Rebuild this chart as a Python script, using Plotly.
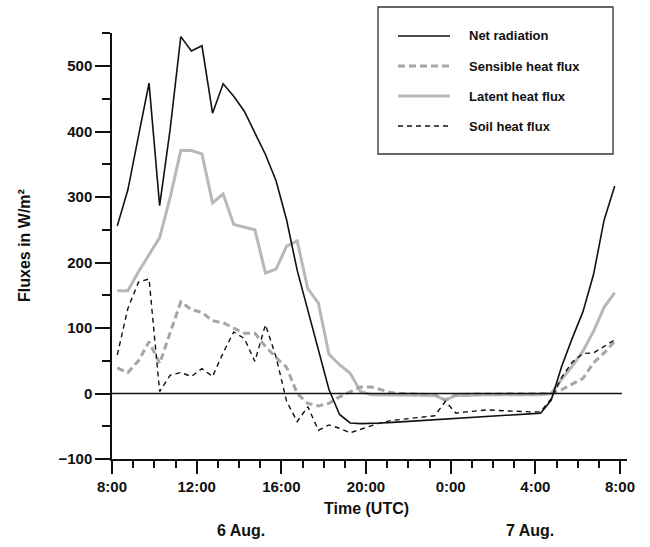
import plotly.graph_objects as go

# half-hourly sampling, hours after 6 Aug 08:00 UTC (08:15 ... 07:45)
hours = [0.25 + 0.5 * k for k in range(48)]

net_radiation = [256, 311, 393, 474, 287, 404, 545, 523, 531, 428, 473, 454,
                 431, 398, 365, 325, 265, 188, 128, 67, 6, -32, -45, -46,
                 -46, -45, -44, -43, -42, -41, -40, -38, -37, -37, -36, -35,
                 -34, -33, -32, -31, -30, -10, 42, 85, 125, 182, 265, 317]
sensible_heat = [39, 32, 50, 79, 46, 94, 140, 128, 124, 111, 108, 100,
                 92, 92, 72, 55, 40, 0, -15, -19, -15, -5, 3, 10,
                 10, 5, 1, 0, -1, -1, -2, -10, -2, -1, -1, -1,
                 -1, -1, -1, -1, -1, 0, 6, 14, 23, 47, 62, 80]
latent_heat = [157, 157, 186, 212, 238, 300, 371, 371, 366, 291, 305, 258,
               254, 250, 184, 190, 225, 233, 160, 138, 60, 44, 31, 3,
               -2, -2, -2, -3, -3, -2, -3, -10, -3, -3, -2, -2,
               -2, -2, -2, -2, -2, 0, 22, 42, 65, 95, 132, 154]
soil_heat = [59, 130, 170, 175, 3, 28, 32, 26, 38, 26, 62, 94,
             84, 49, 105, 56, -12, -43, -20, -56, -48, -53, -60, -55,
             -50, -44, -41, -39, -37, -36, -34, -12, -30, -28, -27, -25,
             -26, -27, -27, -28, -28, -8, 25, 48, 61, 62, 72, 82]

tick_hours = [0, 4, 8, 12, 16, 20, 24]
tick_labels = ["8:00", "12:00", "16:00", "20:00", "0:00", "4:00", "8:00"]

series = [
    ("Net radiation", net_radiation, dict(color="#111111", width=1.6, dash="solid")),
    ("Sensible heat flux", sensible_heat, dict(color="#a6a6a6", width=3, dash="7px,4px")),
    ("Latent heat flux", latent_heat, dict(color="#b8b8b8", width=3, dash="solid")),
    ("Soil heat flux", soil_heat, dict(color="#111111", width=1.4, dash="5px,4px")),
]

FONT = "Liberation Sans, Arial, sans-serif"
fig = go.Figure()
for name, vals, line in [series[2], series[1], series[3], series[0]]:
    fig.add_trace(go.Scatter(x=hours, y=vals, mode="lines", name=name,
                             line=line, showlegend=False))

L, R, T, B = 112, 23, 33, 88
W, H = 650, 547
pw, ph = W - L - R, H - T - B


def px(xp):
    return (xp - L) / pw


def py(yp):
    return (H - B - yp) / ph


# zero line
fig.add_shape(type="line", xref="x", yref="y", x0=0, x1=24.09, y0=0, y1=0,
              line=dict(color="#111111", width=1.5), layer="above")

# legend box
fig.add_shape(type="rect", xref="paper", yref="paper",
              x0=px(378), x1=px(613), y0=py(154), y1=py(7),
              line=dict(color="#333333", width=1.3), fillcolor="white", layer="above")
rows = [36, 66, 96, 126]
for (name, vals, line), ry in zip(series, rows):
    fig.add_shape(type="line", xref="paper", yref="paper",
                  x0=px(398), x1=px(450), y0=py(ry), y1=py(ry),
                  line=line, layer="above")
    fig.add_annotation(xref="paper", yref="paper", x=px(467), y=py(ry),
                       text="<b>%s</b>" % name, showarrow=False,
                       xanchor="left", yanchor="middle",
                       font=dict(family=FONT, size=13, color="#111111"))

# axis titles / date labels
fig.add_annotation(xref="paper", yref="paper", x=px(24), y=0.5,
                   text="<b>Fluxes in W/m²</b>", textangle=-90, showarrow=False,
                   xanchor="center", yanchor="middle",
                   font=dict(family=FONT, size=16, color="#111111"))
fig.add_annotation(xref="paper", yref="paper", x=px(366), y=py(509),
                   text="<b>Time (UTC)</b>", showarrow=False,
                   xanchor="center", yanchor="middle",
                   font=dict(family=FONT, size=16, color="#111111"))
fig.add_annotation(xref="paper", yref="paper", x=px(241), y=py(530),
                   text="<b>6 Aug.</b>", showarrow=False,
                   xanchor="center", yanchor="middle",
                   font=dict(family=FONT, size=16, color="#111111"))
fig.add_annotation(xref="paper", yref="paper", x=px(530), y=py(530),
                   text="<b>7 Aug.</b>", showarrow=False,
                   xanchor="center", yanchor="middle",
                   font=dict(family=FONT, size=16, color="#111111"))

fig.update_layout(
    width=W, height=H,
    margin=dict(l=L, r=R, t=T, b=B, pad=0),
    paper_bgcolor="white", plot_bgcolor="white",
    showlegend=False,
)
fig.update_xaxes(
    range=[0, 24.33], showgrid=False, zeroline=False,
    showline=True, linecolor="#111111", linewidth=1.5,
    tickmode="array", tickvals=tick_hours, ticktext=tick_labels,
    ticks="outside", ticklen=13, tickwidth=1.5, tickcolor="#111111",
    tickfont=dict(family=FONT, size=15, color="#111111", weight="bold"),
    minor=dict(dtick=1, tick0=0, ticks="outside", ticklen=7, tickwidth=1.5,
               tickcolor="#111111", showgrid=False),
)
fig.update_yaxes(
    range=[-100, 550.5], showgrid=False, zeroline=False,
    showline=True, linecolor="#111111", linewidth=1.5,
    tick0=0, dtick=100,
    ticks="outside", ticklen=15, tickwidth=1.5, tickcolor="#111111",
    tickfont=dict(family=FONT, size=15, color="#111111", weight="bold"),
    minor=dict(dtick=50, tick0=0, ticks="outside", ticklen=8, tickwidth=1.5,
               tickcolor="#111111", showgrid=False),
)

fig.write_html("out.html")
